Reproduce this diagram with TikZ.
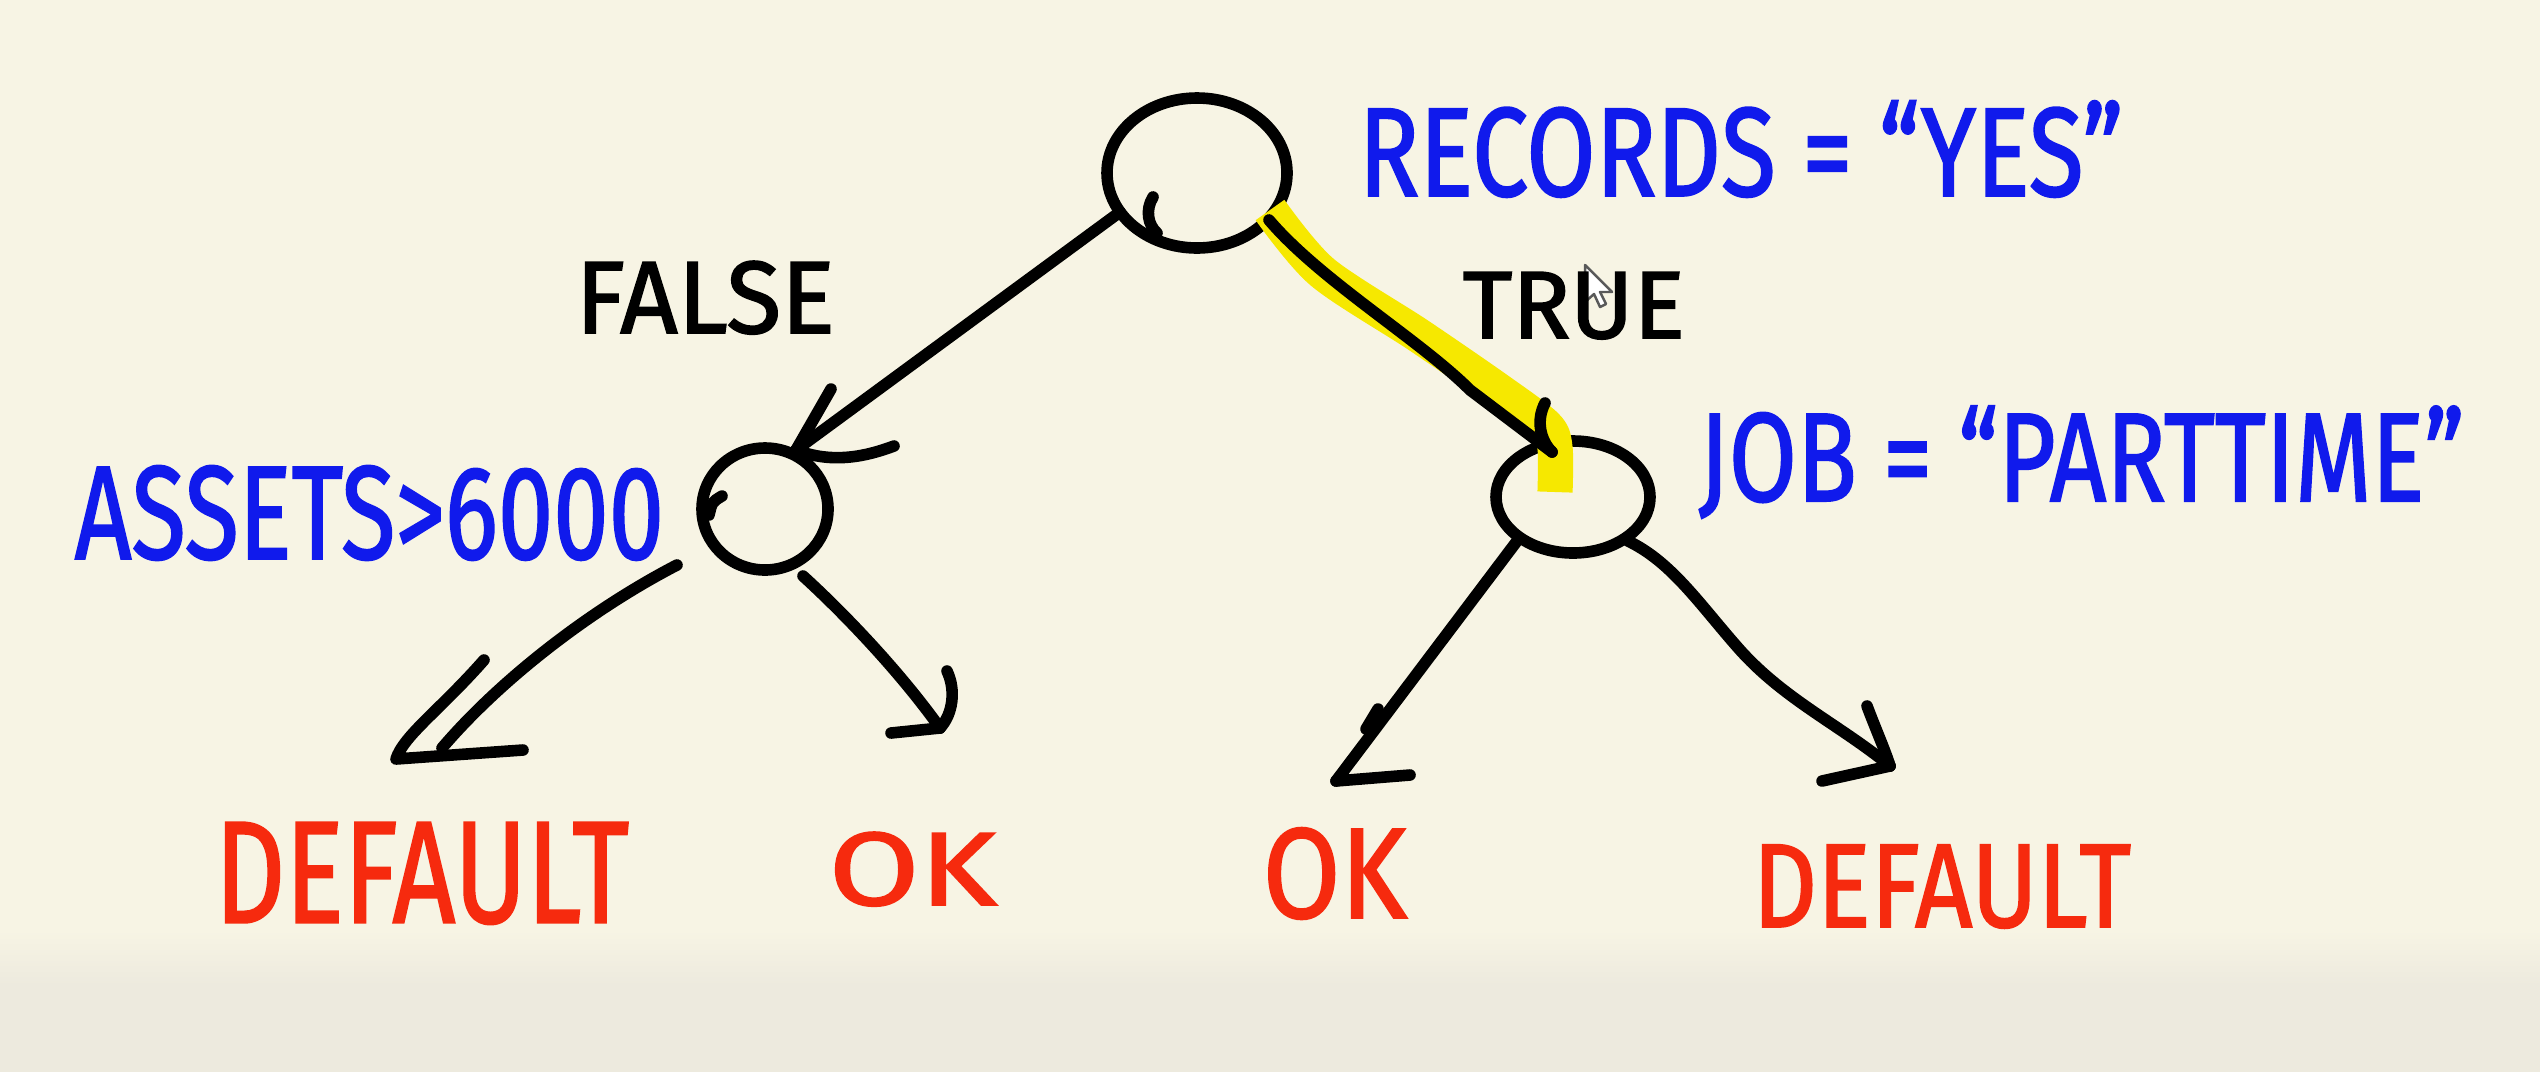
\documentclass[tikz,border=0pt]{standalone}
\usepackage{fontspec}
\setmainfont{Fira Sans}
\newfontfamily\handfont{Fira Sans}[FakeBold=1.6]
\usepackage{graphicx}
\usetikzlibrary{calc}
\definecolor{paper}{RGB}{247,244,228}
\definecolor{paperlow}{RGB}{237,234,222}
\definecolor{inkblue}{RGB}{16,26,236}
\definecolor{inkred}{RGB}{246,42,14}
\definecolor{hilite}{RGB}{246,232,0}
\tikzset{
  ink/.style={line width=3.3pt, line cap=round, line join=round, black},
  hl/.style={line width=10pt, hilite, line cap=butt, line join=round},
  lbl/.style={inner sep=0pt, anchor=south west, font=\handfont},
  blue lbl/.style={lbl, text=inkblue},
  red lbl/.style={lbl, text=inkred},
  black lbl/.style={lbl, text=black},
}
\begin{document}
\begin{tikzpicture}[x=0.01cm,y=-0.01cm]
% background
\fill[paper] (0,0) rectangle (2540,1072);
\shade[top color=paper,bottom color=paperlow] (0,930) rectangle (2540,985);
\fill[paperlow] (0,985) rectangle (2540,1072);
\useasboundingbox (0,0) rectangle (2540,1072);

% tree nodes (hand drawn circles)
\coordinate (root) at (1197,173);
\coordinate (left) at (765,509);
\coordinate (right) at (1573,497);
\draw[ink] (root) ellipse [x radius=90, y radius=75];
\draw[ink] (1153,197) .. controls (1145,210) and (1148,225) .. (1157,233);
\draw[ink] (left) ellipse [x radius=63, y radius=61];
\draw[ink] (722,496) .. controls (712,502) .. (709,515);
\draw[ink] (right) ellipse [x radius=77, y radius=56];

% connector end points
\coordinate (rootL) at (1120,212);
\coordinate (leftT) at (796,450);
\coordinate (rootR) at (1269,220);
\coordinate (rightT) at (1552,452);
\coordinate (leftBL) at (677,565);
\coordinate (defL) at (442,748);
\coordinate (leftBR) at (803,576);
\coordinate (okL) at (940,728);
\coordinate (rightBL) at (1517,541);
\coordinate (okR) at (1336,781);
\coordinate (rightBR) at (1628,541);
\coordinate (defR) at (1890,766);

% yellow highlight of the TRUE branch
\draw[hl] plot[smooth, tension=0.5] coordinates {(1270,210) (1322,272) (1418,335) (1498,390) (1546,426) (1555,448) (1555,492)};

% root -> left (FALSE)
\draw[ink] (rootL) -- (leftT);
\draw[ink] (leftT) -- (831,389);
\draw[ink] (leftT) .. controls (830,463) and (862,458) .. (894,446);

% root -> right (TRUE)
\draw[ink] (rootR) .. controls (1320,280) and (1420,340) .. (1470,390) -- (rightT);
\draw[ink] (1545,403) .. controls (1536,420) and (1540,440) .. (rightT);

% left -> DEFAULT
\draw[ink] (leftBL) .. controls (590,610) and (500,680) .. (defL);
\draw[ink] (484,660) .. controls (440,710) and (404,735) .. (396,759) -- (523,750);

% left -> OK
\draw[ink] (leftBR) .. controls (835,605) and (895,665) .. (okL);
\draw[ink] (947,671) .. controls (956,690) and (953,714) .. (okL);
\draw[ink] (891,733) -- (okL);

% right -> OK
\draw[ink] (rightBL) -- (okR);
\draw[ink] (1378,709) -- (1366,729);
\draw[ink] (okR) -- (1410,775);

% right -> DEFAULT
\draw[ink] (rightBR) .. controls (1672,562) and (1700,605) .. (1740,650) .. controls (1785,700) and (1840,725) .. (defR);
\draw[ink] (1867,706) .. controls (1876,730) and (1885,750) .. (defR);
\draw[ink] (1822,781) -- (defR);

% mouse cursor
\filldraw[fill=white, draw=gray!70!black, line width=0.7pt, line join=round]
  (1585,265) -- (1585,302) -- (1594,294) -- (1600,307) -- (1606,304) -- (1600,292) -- (1612,292) -- cycle;

% labels
\node[blue lbl] (lrec) at (1358,198) {\resizebox{7.64cm}{0.95cm}{RECORDS = “YES”}};
\node[black lbl] (lfalse) at (575,335) {\resizebox{2.59cm}{0.72cm}{FALSE}};
\node[black lbl] (ltrue) at (1462,340) {\resizebox{2.22cm}{0.66cm}{TRUE}};
\node[blue lbl] (lassets) at (74,561) {\resizebox{5.89cm}{0.93cm}{ASSETS>6000}};
\node[blue lbl] (ljob) at (1698,519) {\resizebox{7.65cm}{0.95cm}{JOB = “PARTTIME”}};
\node[red lbl] (ldefL) at (214,925) {\resizebox{4.14cm}{1.0cm}{DEFAULT}};
\node[red lbl] (lokL) at (828,907) {\resizebox{1.68cm}{0.73cm}{OK}};
\node[red lbl] (lokR) at (1262,920) {\resizebox{1.44cm}{0.9cm}{OK}};
\node[red lbl] (ldefR) at (1752,929) {\resizebox{3.78cm}{0.82cm}{DEFAULT}};
\end{tikzpicture}
\end{document}
